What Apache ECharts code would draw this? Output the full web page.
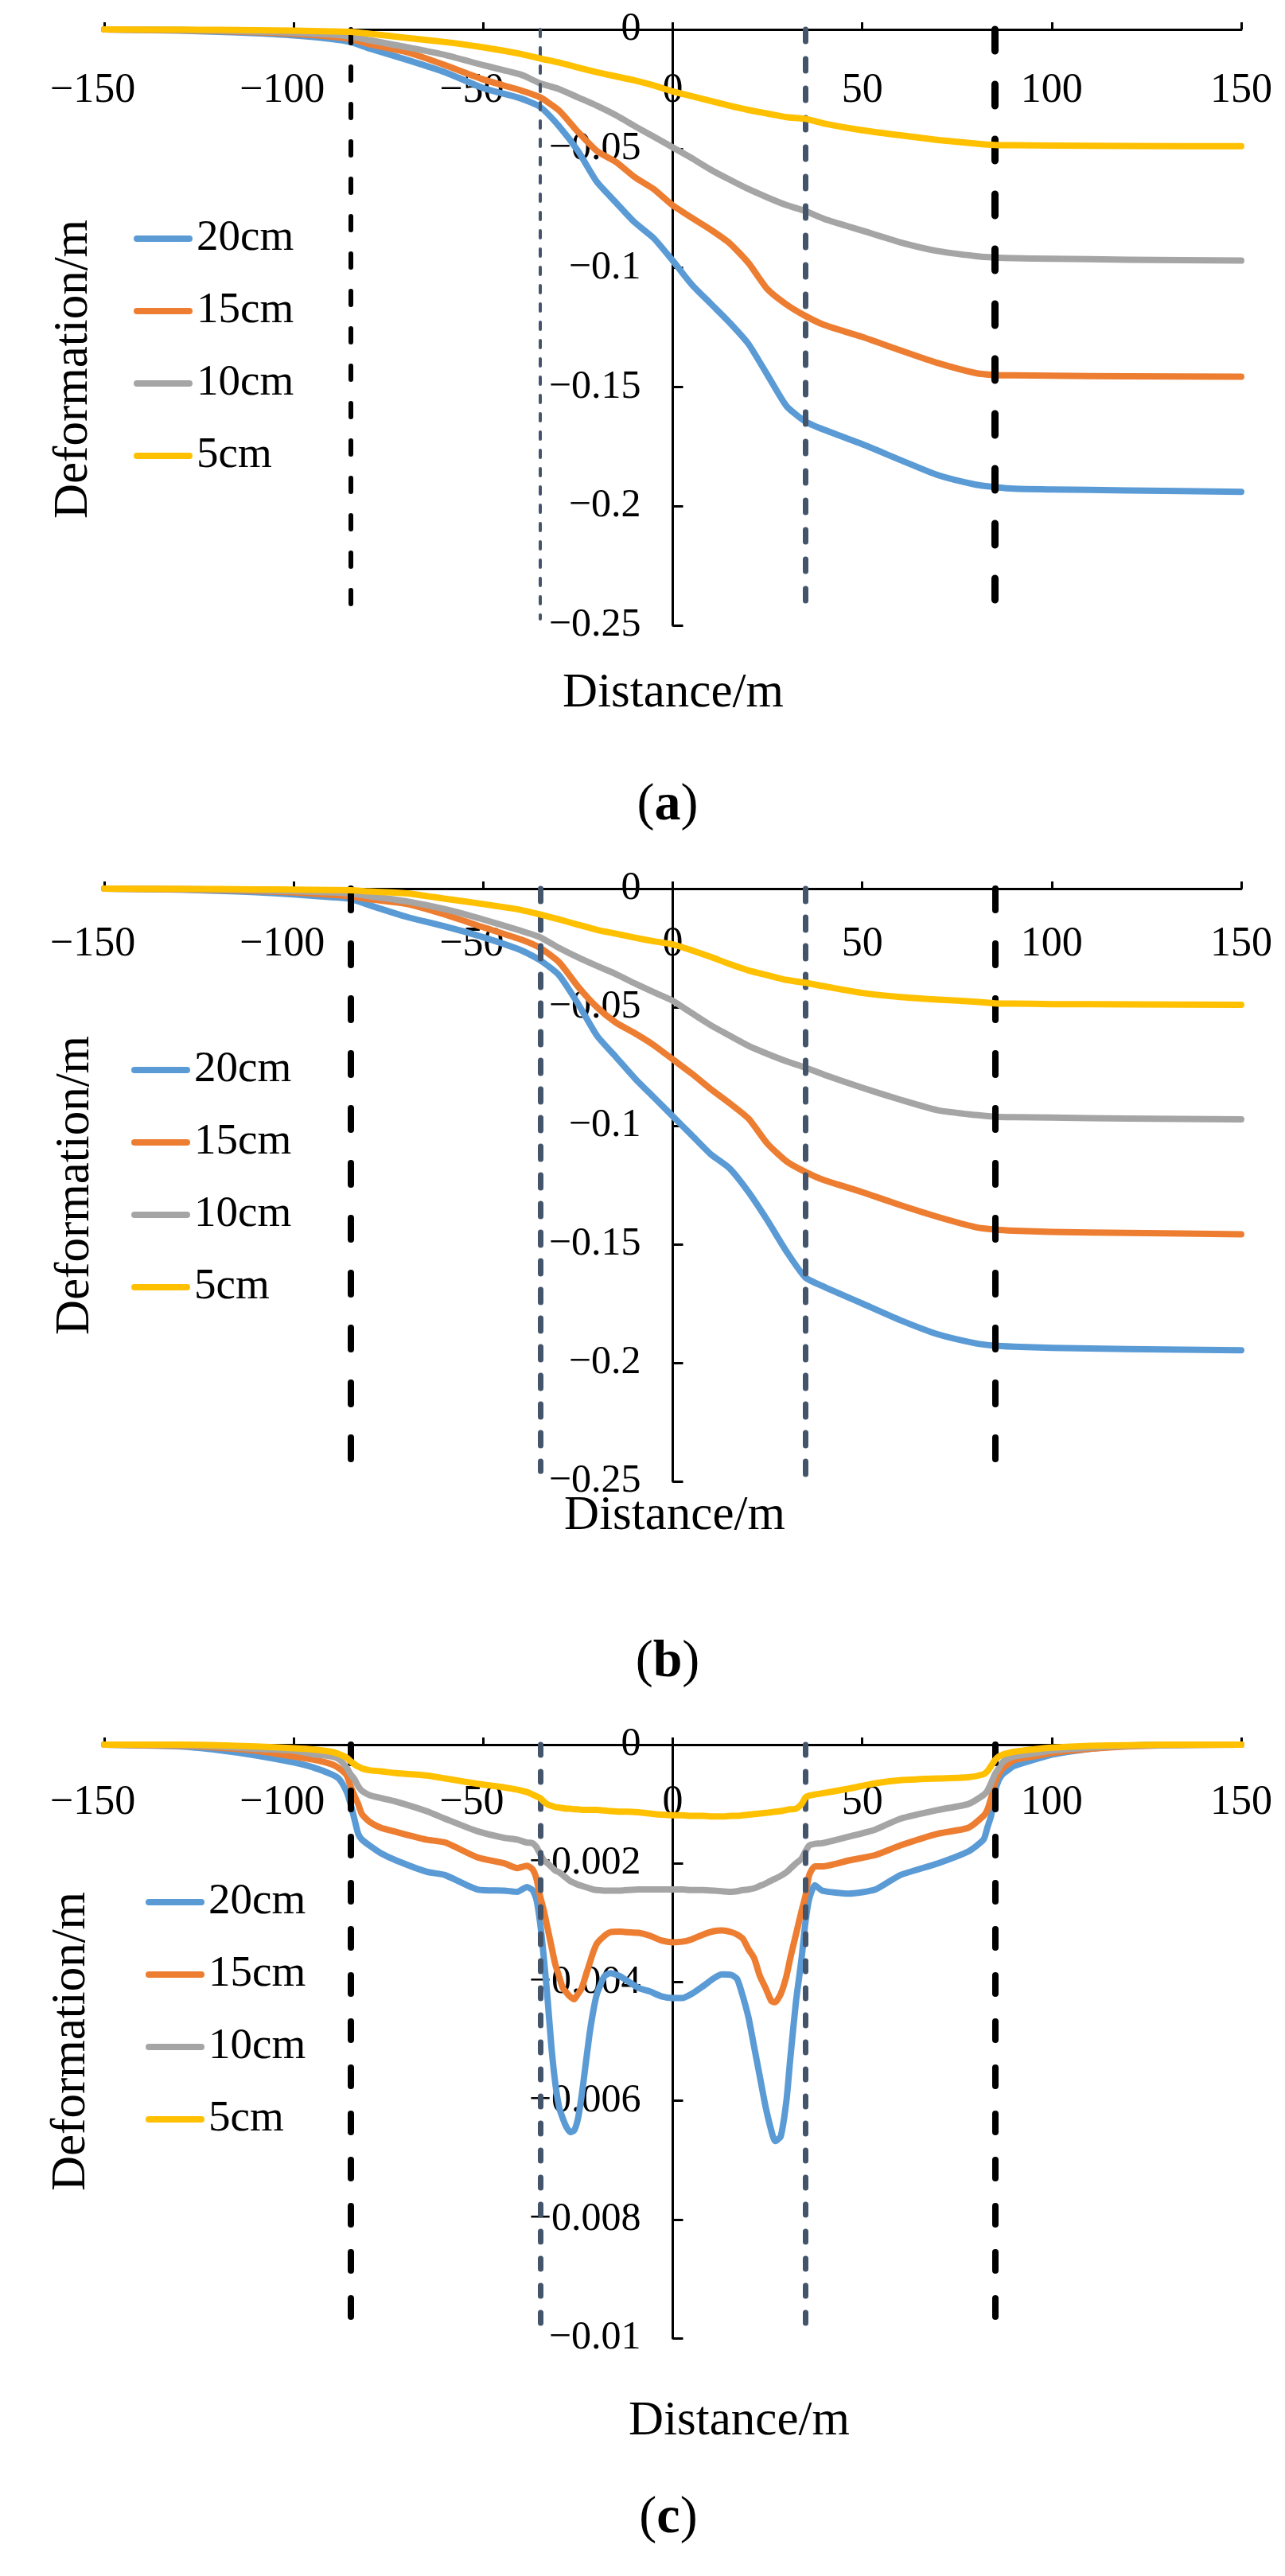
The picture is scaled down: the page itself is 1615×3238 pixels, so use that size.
<!DOCTYPE html>
<html>
<head>
<meta charset="utf-8">
<script src="https://cdn.jsdelivr.net/npm/echarts@6/dist/echarts.min.js"></script>
<style>
html,body{margin:0;padding:0;background:#fff;}
#chart{width:1615px;height:3238px;}
</style>
</head>
<body>
<div id="chart"></div>
<script>
// ---------------- DATA ----------------
const seriesNames = ['20cm', '15cm', '10cm', '5cm'];
const xTicks = [-150, -100, -50, 0, 50, 100, 150];

// Panel (a) and (b): distance samples
const distAB = [-150,-130,-120,-110,-100,-90,-85,-80,-70,-60,-50,-40,-35,-30,-25,-20,-15,-10,-5,0,5,10,15,20,25,30,35,40,50,60,70,80,85,90,100,120,150];

// Panel (a)
const a20 = [0,-0.0005,-0.001,-0.0016,-0.0025,-0.004,-0.0053,-0.008,-0.0128,-0.018,-0.0246,-0.029,-0.0325,-0.0406,-0.051,-0.064,-0.0726,-0.081,-0.0876,-0.097,-0.107,-0.115,-0.123,-0.132,-0.145,-0.158,-0.1645,-0.168,-0.174,-0.1806,-0.187,-0.191,-0.192,-0.1927,-0.193,-0.1934,-0.194];
const a15 = [0,-0.0003,-0.0007,-0.0012,-0.0018,-0.003,-0.004,-0.0062,-0.0096,-0.015,-0.021,-0.0256,-0.0285,-0.034,-0.043,-0.051,-0.0556,-0.062,-0.067,-0.0738,-0.079,-0.084,-0.0897,-0.098,-0.109,-0.1154,-0.1202,-0.124,-0.129,-0.1346,-0.14,-0.1442,-0.145,-0.1451,-0.1453,-0.1455,-0.1457];
const a10 = [0,-0.0002,-0.0005,-0.0009,-0.0013,-0.0022,-0.003,-0.0045,-0.0075,-0.0107,-0.015,-0.019,-0.0226,-0.025,-0.0285,-0.032,-0.036,-0.0406,-0.045,-0.0495,-0.054,-0.0588,-0.063,-0.067,-0.0705,-0.0737,-0.0762,-0.0795,-0.0844,-0.0893,-0.093,-0.0951,-0.0957,-0.096,-0.0962,-0.0966,-0.097];
const a5  = [0,-0.0001,-0.0002,-0.0003,-0.0005,-0.0008,-0.001,-0.0018,-0.0036,-0.0053,-0.0075,-0.0103,-0.0122,-0.0139,-0.016,-0.018,-0.0197,-0.0214,-0.0235,-0.026,-0.028,-0.03,-0.032,-0.0338,-0.0353,-0.0368,-0.0375,-0.0395,-0.0423,-0.0444,-0.0464,-0.0479,-0.0485,-0.0486,-0.0487,-0.0489,-0.049];

// Panel (b)
const b20 = [0,-0.0004,-0.0009,-0.0015,-0.0024,-0.0036,-0.0043,-0.007,-0.012,-0.016,-0.0205,-0.026,-0.0302,-0.0365,-0.0485,-0.062,-0.071,-0.08,-0.088,-0.096,-0.104,-0.112,-0.118,-0.128,-0.14,-0.153,-0.164,-0.168,-0.175,-0.182,-0.188,-0.1918,-0.1928,-0.1932,-0.1937,-0.1942,-0.1947];
const b15 = [0,-0.0003,-0.0006,-0.001,-0.0016,-0.0026,-0.0033,-0.0045,-0.0065,-0.011,-0.0163,-0.0215,-0.025,-0.031,-0.0413,-0.05,-0.0565,-0.061,-0.066,-0.072,-0.078,-0.0845,-0.0905,-0.097,-0.1076,-0.115,-0.1195,-0.123,-0.128,-0.1335,-0.1385,-0.1428,-0.1438,-0.1443,-0.1448,-0.1452,-0.1458];
const b10 = [0,-0.0002,-0.0004,-0.0007,-0.0011,-0.0016,-0.002,-0.0032,-0.0054,-0.0087,-0.013,-0.0178,-0.0205,-0.025,-0.029,-0.0326,-0.036,-0.04,-0.0437,-0.0473,-0.0525,-0.0576,-0.062,-0.0663,-0.0697,-0.0728,-0.0755,-0.0785,-0.084,-0.089,-0.0935,-0.0955,-0.0962,-0.0964,-0.0966,-0.097,-0.0973];
const b5  = [0,-0.0001,-0.0002,-0.0003,-0.0004,-0.0006,-0.0007,-0.0012,-0.002,-0.0043,-0.0065,-0.009,-0.0109,-0.013,-0.0152,-0.0174,-0.019,-0.0207,-0.0222,-0.0235,-0.026,-0.0288,-0.0318,-0.0345,-0.0365,-0.0385,-0.0397,-0.0412,-0.044,-0.0457,-0.0468,-0.0477,-0.0484,-0.0485,-0.0487,-0.0488,-0.049];

// Panel (c)
const distC = [-150,-130,-120,-110,-100,-95,-90,-88,-86,-85,-84,-83,-82,-80,-77,-73,-65,-60,-51.5,-44.5,-41,-38.5,-37,-36,-35,-34,-33,-32,-31,-30,-29,-28,-27,-26,-25,-24,-23,-22,-21,-20,-18,-16.5,-14,-12,-9,-6,-3,0,2.5,5,8,11,13,15.5,17,18.5,20,21.5,23,24.5,26,27,28.5,30,31,32.5,34,35,36,37.5,39.5,46.5,53.5,60,70,78,82,83,84,85,86,87,88,90,95,100,110,120,130,150];
const c20 = [0,-0.00003,-0.00009,-0.00018,-0.0003,-0.00038,-0.0005,-0.00058,-0.0008,-0.001,-0.00125,-0.0015,-0.0016,-0.0017,-0.00183,-0.00195,-0.00214,-0.0022,-0.00244,-0.00246,-0.00248,-0.0024,-0.00245,-0.0026,-0.003,-0.0036,-0.0043,-0.0051,-0.0057,-0.0061,-0.0063,-0.00645,-0.00653,-0.0065,-0.0063,-0.0059,-0.0054,-0.0049,-0.0045,-0.0042,-0.0039,-0.00385,-0.0039,-0.00398,-0.0041,-0.00416,-0.00424,-0.00427,-0.00427,-0.0042,-0.00407,-0.00393,-0.00387,-0.00388,-0.00395,-0.00424,-0.0046,-0.0051,-0.0056,-0.0061,-0.0065,-0.00668,-0.0066,-0.006,-0.0053,-0.00434,-0.0036,-0.003,-0.0026,-0.00237,-0.00246,-0.00251,-0.00244,-0.0022,-0.002,-0.0018,-0.0016,-0.0014,-0.0012,-0.0008,-0.0006,-0.0005,-0.00045,-0.00036,-0.00026,-0.00017,-0.00007,-0.00002,0,0];
const c15 = [0,-0.00002,-0.00005,-0.0001,-0.0002,-0.00025,-0.00033,-0.0004,-0.00052,-0.0007,-0.00086,-0.001,-0.00117,-0.0013,-0.0014,-0.00147,-0.0016,-0.00165,-0.0019,-0.002,-0.00208,-0.00204,-0.0021,-0.00225,-0.00255,-0.0028,-0.0031,-0.0034,-0.0037,-0.0039,-0.0041,-0.00418,-0.00425,-0.00429,-0.0042,-0.0041,-0.0039,-0.0037,-0.0035,-0.00335,-0.00322,-0.00316,-0.00315,-0.00316,-0.00317,-0.00322,-0.0033,-0.00333,-0.00332,-0.00328,-0.0032,-0.00314,-0.00313,-0.00316,-0.0032,-0.00327,-0.00345,-0.0036,-0.0039,-0.0041,-0.00432,-0.00434,-0.0042,-0.0039,-0.0036,-0.0032,-0.0028,-0.00255,-0.0022,-0.00205,-0.00205,-0.00195,-0.00186,-0.0017,-0.0015,-0.0014,-0.0012,-0.0011,-0.0009,-0.00065,-0.0005,-0.0004,-0.00035,-0.00026,-0.0002,-0.00014,-0.00007,-0.00003,-0.00001,0];
const c10 = [0,-0.00001,-0.00003,-0.00007,-0.0001,-0.00016,-0.0002,-0.00025,-0.00039,-0.0005,-0.00058,-0.0007,-0.00078,-0.00085,-0.0009,-0.00096,-0.00112,-0.00125,-0.00146,-0.00157,-0.0016,-0.00165,-0.00166,-0.00172,-0.00184,-0.00195,-0.002,-0.00206,-0.00212,-0.00215,-0.0022,-0.00225,-0.0023,-0.00233,-0.00236,-0.00238,-0.0024,-0.00242,-0.00244,-0.00245,-0.00246,-0.00246,-0.00246,-0.00245,-0.00244,-0.00244,-0.00244,-0.00244,-0.00244,-0.00245,-0.00245,-0.00246,-0.00247,-0.00248,-0.00247,-0.00245,-0.00244,-0.00242,-0.00238,-0.00234,-0.00229,-0.00226,-0.00221,-0.00215,-0.00209,-0.002,-0.00192,-0.0018,-0.0017,-0.00167,-0.00166,-0.00155,-0.00143,-0.00125,-0.0011,-0.001,-0.00085,-0.00078,-0.00065,-0.0005,-0.0004,-0.0003,-0.00025,-0.0002,-0.00015,-0.0001,-0.00005,-0.00002,-0.00001,0];
const c5  = [0,0,-0.00001,-0.00003,-0.00006,-0.00008,-0.00012,-0.00016,-0.00022,-0.00028,-0.00033,-0.00037,-0.0004,-0.00043,-0.00045,-0.00048,-0.00052,-0.00057,-0.00066,-0.00072,-0.00076,-0.0008,-0.00084,-0.00087,-0.0009,-0.00096,-0.00101,-0.00103,-0.00105,-0.00106,-0.00107,-0.00108,-0.00108,-0.00109,-0.00109,-0.0011,-0.0011,-0.0011,-0.0011,-0.0011,-0.00111,-0.00112,-0.00113,-0.00113,-0.00114,-0.00116,-0.00118,-0.00119,-0.00119,-0.0012,-0.0012,-0.00121,-0.00121,-0.0012,-0.0012,-0.00119,-0.00118,-0.00117,-0.00116,-0.00115,-0.00114,-0.00113,-0.00112,-0.0011,-0.00109,-0.00108,-0.001,-0.00089,-0.00086,-0.00084,-0.00082,-0.00074,-0.00065,-0.0006,-0.00057,-0.00055,-0.0005,-0.00045,-0.00036,-0.00026,-0.0002,-0.00017,-0.00015,-0.00012,-0.00008,-0.00005,-0.00002,-0.00001,0,0];

// Vertical guide lines (distance) and where each ends (deformation)
const guideX = [-85, -35, 35, 85];
const guideEndA = [-0.25, -0.2473, -0.2467, -0.2433];
const guideEndB = [-0.2443, -0.2457, -0.247, -0.2443];
const guideEndC = [-0.00965, -0.01, -0.01, -0.00965];

// ---------------- STYLE ----------------
const FONT = '"Liberation Serif","Times New Roman",serif';
const COLORS = ['#5B9BD5', '#ED7D31', '#A5A5A5', '#FFC000'];
const SLATE = '#44546A';
const guideStyles = [
  [{c:'#000',w:6,d:[23,24]},{c:SLATE,w:4,d:[13,10]},{c:SLATE,w:7,d:[22,15]},{c:'#000',w:9,d:[36,33]}],
  [{c:'#000',w:8,d:[35,34]},{c:SLATE,w:7,d:[23,13]},{c:SLATE,w:7,d:[23,13]},{c:'#000',w:8,d:[35,34]}],
  [{c:'#000',w:8,d:[31,27]},{c:SLATE,w:7,d:[20,14]},{c:SLATE,w:7,d:[20,14]},{c:'#000',w:8,d:[31,27]}]
];

const panels = [
  { grid:{left:131, top:37, width:1429, height:749}, yMin:-0.25, yInt:0.05, xs:distAB, ys:[a20,a15,a10,a5], ends:guideEndA, labelMargin:77,
    legend:{left:168, top:270}, yTitle:[93,464], xTitle:[846,872], tag:[839,1013], tagLetter:'a' },
  { grid:{left:131, top:1117, width:1429, height:745}, yMin:-0.25, yInt:0.05, xs:distAB, ys:[b20,b15,b10,b5], ends:guideEndB, labelMargin:70,
    legend:{left:165, top:1315}, yTitle:[95,1490], xTitle:[848,1906], tag:[839,2090], tagLetter:'b' },
  { grid:{left:131, top:2193, width:1429, height:746}, yMin:-0.01, yInt:0.002, xs:distC, ys:[c20,c15,c10,c5], ends:guideEndC, labelMargin:73,
    legend:{left:183, top:2361}, yTitle:[90,2566], xTitle:[929,3044], tag:[840,3166], tagLetter:'c' }
];

const chart = echarts.init(document.getElementById('chart'), null, {renderer:'canvas'});

const grids = [], xAxes = [], yAxes = [], series = [], legends = [], graphics = [];
const pill = 'path://M4,0H70A4,4,0,0,1,70,8H4A4,4,0,0,1,4,0Z';

panels.forEach((p, i) => {
  grids.push(Object.assign({outerBoundsMode:'none', containLabel:false}, p.grid));
  xAxes.push({
    gridIndex:i, type:'value', min:-150, max:150, interval:50, position:'top',
    axisLine:{show:true, onZero:false, lineStyle:{color:'#000', width:3}},
    axisTick:{show:true, inside:false, length:9, lineStyle:{color:'#000', width:3}},
    splitLine:{show:false},
    axisLabel:{
      inside:true, margin:p.labelMargin, verticalAlign:'middle', fontSize:52, color:'#000', fontFamily:FONT,
      showMinLabel:true, showMaxLabel:true,
      formatter: v => v < 0 ? ('\u2212' + Math.abs(v) + '{s|\u00a0}') : String(v),
      rich:{ s:{ width:29, fontSize:52, fontFamily:FONT } }
    }
  });
  // y axis sits where distance = 0 (middle of the symmetric x range)
  yAxes.push({
    gridIndex:i, type:'value', min:p.yMin, max:0, interval:p.yInt, position:'left',
    offset: -p.grid.width / 2,
    axisLine:{show:true, onZero:false, lineStyle:{color:'#000', width:3}},
    axisTick:{show:true, inside:true, length:13, lineStyle:{color:'#000', width:3}},
    splitLine:{show:false},
    axisLabel:{
      margin:40, fontSize:50, color:'#000', fontFamily:FONT,
      formatter: v => v === 0 ? '0' : '\u2212' + String(parseFloat(Math.abs(v).toFixed(5)))
    }
  });
  p.ys.forEach((vals, k) => {
    series.push({
      name: seriesNames[k], type:'line', xAxisIndex:i, yAxisIndex:i,
      data: p.xs.map((x, j) => [x, vals[j]]),
      symbol:'none', smooth:0.2, z:2+k,
      lineStyle:{color:COLORS[k], width:8, cap:'round', join:'round'},
      itemStyle:{color:COLORS[k]},
      silent:true
    });
  });
  series.push({
    type:'line', xAxisIndex:i, yAxisIndex:i, data:[], symbol:'none', silent:true, z:20,
    markLine:{
      silent:true, symbol:['none','none'], label:{show:false}, animation:false,
      data: guideX.map((gx, k) => {
        const st = guideStyles[i][k];
        return [
          {coord:[gx, 0], lineStyle:{color:st.c, width:st.w, type:[Math.max(1, st.d[0]-st.w), st.d[1]+st.w], cap:'round'}},
          {coord:[gx, p.ends[k]]}
        ];
      })
    }
  });
  legends.push({
    data: seriesNames, orient:'vertical', left:p.legend.left, top:p.legend.top, padding:0,
    itemWidth:74, itemHeight:8, itemGap:31, icon:pill, selectedMode:false,
    textStyle:{fontSize:55, lineHeight:60, fontFamily:FONT, color:'#000'}
  });
  graphics.push({
    type:'text', x:p.yTitle[0], y:p.yTitle[1], rotation:Math.PI/2,
    style:{text:'Deformation/m', font:'61px ' + FONT, fill:'#000', align:'center', verticalAlign:'middle'}
  });
  graphics.push({
    type:'text', x:p.xTitle[0], y:p.xTitle[1],
    style:{text:'Distance/m', font:'61px ' + FONT, fill:'#000', align:'center', verticalAlign:'middle'}
  });
  graphics.push({
    type:'text', x:p.tag[0], y:p.tag[1],
    style:{
      text:'{p|(}{b|' + p.tagLetter + '}{p|)}', align:'center', verticalAlign:'middle',
      rich:{ p:{fontSize:66, fontFamily:FONT, fill:'#000'}, b:{fontSize:66, fontFamily:FONT, fontWeight:'bold', fill:'#000'} }
    }
  });
});

chart.setOption({
  animation:false,
  backgroundColor:'#fff',
  textStyle:{fontFamily:FONT},
  grid:grids, xAxis:xAxes, yAxis:yAxes, series:series, legend:legends, graphic:graphics
});
</script>
</body>
</html>
